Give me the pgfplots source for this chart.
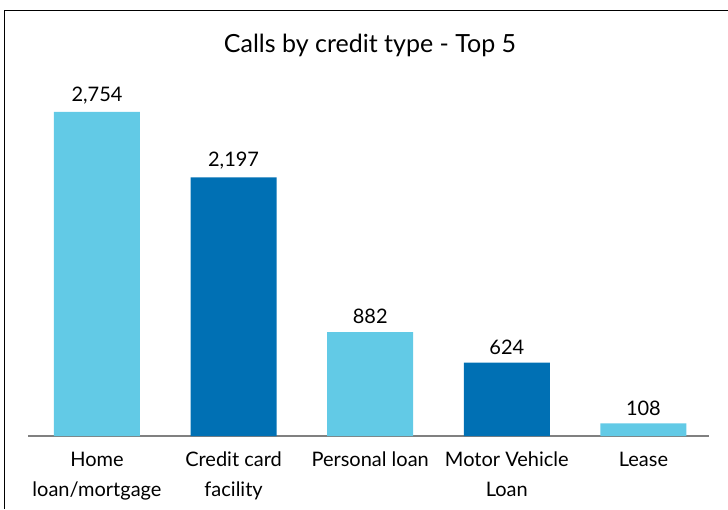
\documentclass[border=0pt]{standalone}
\usepackage{pgfplots}
\pgfplotsset{compat=1.18}
\usepackage{fontspec}
\setmainfont{Lato}
\definecolor{lightb}{HTML}{62CAE6}
\definecolor{darkb}{HTML}{0070B4}
\begin{document}
\begin{tikzpicture}[x=0.5pt,y=0.5pt]
\path[use as bounding box] (0,0) rectangle (728,509);
\draw[line width=0.8pt] (4.5,0) -- (4.5,498.5) -- (728,498.5);
\node[font=\fontsize{12.5}{14}\selectfont] at (370,464) {Calls by credit type - Top 5};
\begin{axis}[
  at={(14pt,36.5pt)}, anchor=south west,
  scale only axis, width=340.5pt, height=176.5pt,
  xmin=-0.505, xmax=4.48, ymin=0, ymax=3000,
  axis y line=none, axis x line*=bottom,
  x axis line style={draw=gray, line width=0.9pt, -},
  xtick={0,1,2,3,4}, major tick length=0,
  xticklabels={{Home\\loan/mortgage},{Credit card\\facility},{Personal loan},{Motor\ Vehicle\\Loan},{Lease}},
  xticklabel style={align=center, font=\fontsize{10}{15}\selectfont, anchor=north, yshift=-4.5pt},
  ybar, bar width=43pt, bar shift=0pt,
  nodes near coords,
  every node near coord/.append style={font=\fontsize{10}{12}\selectfont, yshift=0.5pt},
  /pgf/number format/assume math mode=true,
  /pgf/number format/1000 sep={,},
  clip=false,
]
\addplot[fill=lightb, draw=none] coordinates {(0,2754) (2,882) (4,108)};
\addplot[fill=darkb, draw=none] coordinates {(1,2197) (3,624)};
\end{axis}
\end{tikzpicture}
\end{document}
